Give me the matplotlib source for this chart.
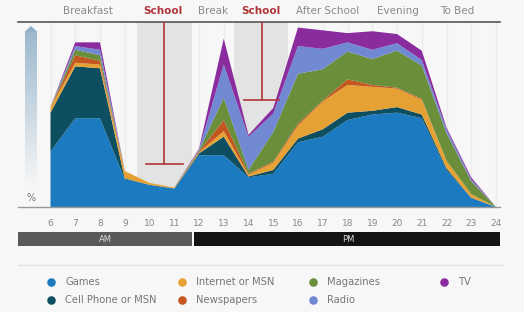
import matplotlib.pyplot as plt
import numpy as np

# hours of the day
hours = list(range(6, 25))
hour_labels = [str(h) for h in hours]

# share of kids per activity (stacked, % of scale)
games = [30, 48, 48, 15, 12, 10, 28, 28, 16, 18, 35, 38, 47, 50, 51, 48, 20, 5, 0]
cell_phone = [21, 28, 27, 0.5, 0, 0, 1, 10, 0.5, 2, 2, 4, 4, 2, 3, 2, 1, 0, 0]
internet = [3, 2, 2, 4, 1, 0.5, 0.5, 3, 1, 4, 7, 15, 15, 13, 10, 8, 4, 2, 0]
newspapers = [0, 4, 2, 0, 0, 0, 0.5, 6, 0.5, 0.5, 1, 0.5, 3, 1, 0.5, 0.5, 0, 0, 0]
magazines = [0, 3, 3, 0, 0, 0, 0.5, 12, 2, 16, 27, 17, 15, 14, 20, 18, 15, 7, 0]
radio = [0, 2, 3, 0, 0, 0, 0.5, 18, 18, 10, 15, 11, 5, 5, 4, 3, 2, 1, 0]
tv = [0, 2, 4, 0, 0, 0, 0.5, 14, 1, 3, 10, 10, 5, 10, 5, 5, 1, 1, 0]

series_names = ['Games', 'Cell Phone or MSN', 'Internet or MSN', 'Newspapers',
                'Magazines', 'Radio', 'TV']
colors = ['#1c7bc0', '#0d4e60', '#e6a134', '#c4561f', '#6b8e3b', '#7089d2', '#8a2c9e']

periods = ['Breakfast', 'School', 'Break', 'School', 'After School', 'Evening', 'To Bed']
period_pos = [7.5, 10.55, 12.55, 14.5, 17.2, 20.05, 22.45]
school_spans = [(9.5, 11.7), (13.4, 15.6)]
school_marks = [(10.59, 9.86, 11.35, 23), (14.55, 13.82, 15.23, 58)]

W, H = 524, 312
fig = plt.figure(figsize=(W / 100, H / 100), dpi=100)
fig.patch.set_facecolor('#f7f7f7')

# main chart axes: x 18..500 px, y 22..207 px
ax = fig.add_axes([18 / W, (H - 207) / H, 482 / W, 185 / H])
ax.set_facecolor('#f7f7f7')
ax.set_xlim(6 - 32.5 / 24.75, 6 + 449.5 / 24.75)
ax.set_ylim(0, 100)

for h in hours:
    ax.axvline(h, color='#ececec', lw=1, zorder=0)
for a, b in school_spans:
    ax.axvspan(a, b, color='#e3e3e3', lw=0, zorder=0)

ax.stackplot(hours, games, cell_phone, internet, newspapers, magazines, radio, tv,
             colors=colors, lw=0, zorder=2)

for xc, x0, x1, yb in school_marks:
    ax.plot([xc, xc], [yb, 100], color='#b0353a', lw=1.2, zorder=3)
    ax.plot([x0, x1], [yb, yb], color='#b0353a', lw=1.2, zorder=3)

for s in ['left', 'right']:
    ax.spines[s].set_visible(False)
ax.spines['top'].set_color('#555555')
ax.spines['top'].set_linewidth(1.2)
ax.spines['bottom'].set_color('#999999')
ax.spines['bottom'].set_linewidth(1)
ax.set_xticks(hours)
ax.set_xticklabels(hour_labels)
ax.tick_params(axis='x', length=0, labelsize=6.5, labelcolor='#888888', pad=9)
ax.set_yticks([])

# decoration layer in pixel coordinates
top = fig.add_axes([0, 0, 1, 1], zorder=5)
top.set_xlim(0, W)
top.set_ylim(H, 0)
top.axis('off')
top.patch.set_alpha(0)

for name, x in zip(periods, period_pos):
    px = 50.5 + (x - 6) * 24.75
    if name == 'School':
        top.text(px, 11, name, color='#b0353a', fontsize=7.5, fontweight='bold',
                 ha='center', va='center')
    else:
        top.text(px, 11, name, color='#8a8a8a', fontsize=7.5, ha='center', va='center')

# gradient arrow on the left
grad = np.linspace(1, 0, 100).reshape(-1, 1)
top.imshow(np.dstack([np.full((100, 1), 0.55), np.full((100, 1), 0.68),
                      np.full((100, 1), 0.78), grad * 0.85]),
           extent=[25, 37, 188, 31], aspect='auto', zorder=3)
top.add_patch(plt.Polygon([[25, 31.5], [31, 26], [37, 31.5]], color='#8fb0c8', lw=0, zorder=3))
top.text(31, 198, '%', color='#777777', fontsize=7, ha='center', va='center')

# AM / PM bar
top.add_patch(plt.Rectangle((18, 232), 174, 14, color='#5a5a5a', lw=0))
top.add_patch(plt.Rectangle((194, 232), 306, 14, color='#141414', lw=0))
top.text(105, 239.5, 'AM', color='#dddddd', fontsize=6, ha='center', va='center')
top.text(348, 239.5, 'PM', color='#dddddd', fontsize=6, ha='center', va='center')
top.plot([18, 502], [265, 265], color='#e2e2e2', lw=1)

# legend
legend_pos = [(51, 282), (51, 300), (182, 282), (182, 300), (313, 282), (313, 300), (444, 282)]
for name, c, (lx, ly) in zip(series_names, colors, legend_pos):
    top.scatter([lx], [ly], s=38, color=c, lw=0)
    top.text(lx + 14, ly, name, color='#777777', fontsize=7.2, ha='left', va='center')

fig.savefig('out.png', dpi=100, facecolor=fig.get_facecolor())
